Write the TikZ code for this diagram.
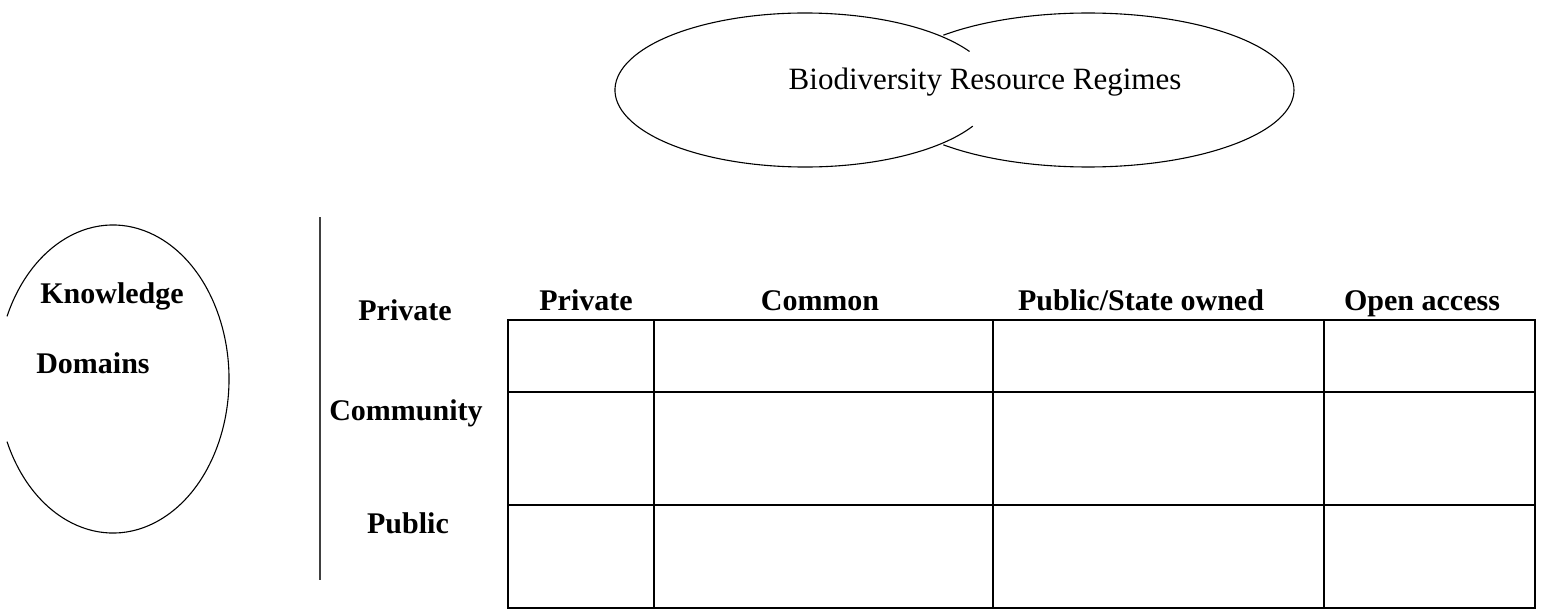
\documentclass[tikz,border=0pt]{standalone}
\usepackage{fontspec}
\setmainfont{Liberation Serif}
\begin{document}
\begin{tikzpicture}[x=1pt,y=-1pt,
  lbl/.style={font=\fontsize{30}{34}\selectfont\bfseries, anchor=base, inner sep=0pt},
  reg/.style={font=\fontsize{31}{35}\selectfont, anchor=base, inner sep=0pt},
  oval/.style={line width=1.1pt},
  grid/.style={line width=2pt}]
\useasboundingbox (0,0) rectangle (1541,610);
% top twin ellipse
\coordinate (lc) at (805,90);
\coordinate (rc) at (1088,90);
\draw[oval] (lc) ++(30:190pt and 77pt) arc[start angle=30, end angle=332, x radius=190pt, y radius=77pt];
\draw[oval] (rc) ++(134.6:206pt and 77pt) arc[start angle=134.6, end angle=-134.6, x radius=206pt, y radius=77pt];
\node[reg] (title) at (985,89) {Biodiversity Resource Regimes};
% knowledge ellipse
\coordinate (kc) at (113,379);
\draw[oval] (kc) ++(-156:116pt and 154pt) arc[start angle=-156, end angle=156, x radius=116pt, y radius=154pt];
\node[lbl] (know) at (112,303) {Knowledge};
\node[lbl] (dom) at (93,373) {Domains};
% separator
\coordinate (s1) at (320,217);
\coordinate (s2) at (320,580);
\draw[line width=1.3pt, black!75] (s1) -- (s2);
% row labels
\node[lbl] (rpriv) at (405,320) {Private};
\node[lbl] (rcomm) at (406,420) {Community};
\node[lbl] (rpub) at (408,533) {Public};
% column headers
\node[lbl] (hpriv) at (586,310) {Private};
\node[lbl] (hcomm) at (820,310) {Common};
\node[lbl] (hpub) at (1141,310) {Public/State owned};
\node[lbl] (hopen) at (1422,310) {Open access};
% table
\draw[grid] (508,320) rectangle (1535,608);
\foreach \x in {654,993,1324} \draw[grid] (\x,320) -- (\x,608);
\foreach \y in {392,505} \draw[grid] (508,\y) -- (1535,\y);
\end{tikzpicture}
\end{document}
